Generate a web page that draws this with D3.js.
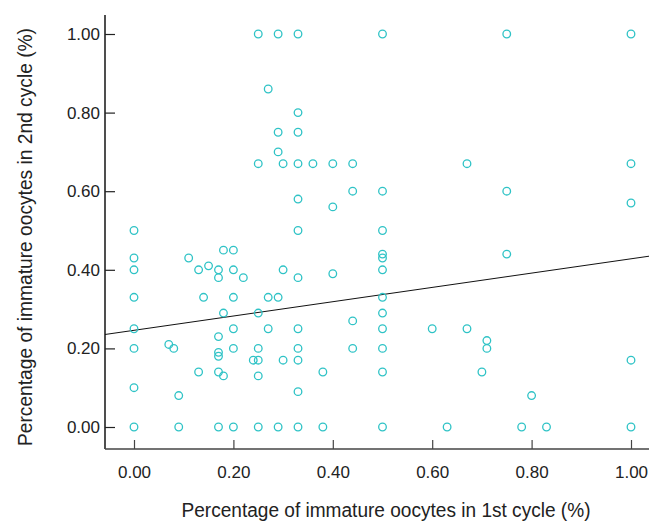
<!DOCTYPE html>
<html>
<head>
<meta charset="utf-8">
<script src="https://cdn.jsdelivr.net/npm/d3@7"></script>
<style>
  body { margin: 0; background: #fff; }
  text { font-family: "Liberation Sans", Arial, sans-serif; fill: #222; }
</style>
</head>
<body>
<div class="chart"></div>
<script>
// first cycle (x) and second cycle (y) immature oocyte ratios
var cycle1 = [0.25,0.29,0.33,0.50,0.75,1.00, 0.27, 0.33, 0.29,0.33, 0.29,
  0.25,0.30,0.33,0.36,0.40,0.44,0.67,1.00, 0.44,0.50,0.75, 0.33, 0.40, 1.00,
  0.00,0.33,0.50, 0.00,0.11,0.18,0.20,
  0.00,0.13,0.15,0.17,0.17,0.20,0.22,0.30,0.33,
  0.50,0.50,0.50,0.40,0.75,
  0.00,0.14,0.20,0.27,0.29,0.50,
  0.18,0.25,0.50, 0.44,
  0.00,0.20,0.27,0.33,0.50,0.60,0.67,
  0.17, 0.71,
  0.00,0.07,0.08,0.20,0.25,0.33,0.44,0.50,0.71,
  0.17,0.17,
  0.24,0.25,0.30,0.33,1.00,
  0.13,0.17,0.38,0.50,0.70,
  0.18,0.25, 0.00, 0.09,0.80, 0.33,
  0.00,0.09,0.17,0.20,0.25,0.29,0.33,0.38,0.50,0.63,0.78,0.83,1.00];
var cycle2 = [1.00,1.00,1.00,1.00,1.00,1.00, 0.86, 0.80, 0.75,0.75, 0.70,
  0.67,0.67,0.67,0.67,0.67,0.67,0.67,0.67, 0.60,0.60,0.60, 0.58, 0.56, 0.57,
  0.50,0.50,0.50, 0.43,0.43,0.45,0.45,
  0.40,0.40,0.41,0.40,0.38,0.40,0.38,0.40,0.38,
  0.44,0.43,0.40,0.39,0.44,
  0.33,0.33,0.33,0.33,0.33,0.33,
  0.29,0.29,0.29, 0.27,
  0.25,0.25,0.25,0.25,0.25,0.25,0.25,
  0.23, 0.22,
  0.20,0.21,0.20,0.20,0.20,0.20,0.20,0.20,0.20,
  0.19,0.18,
  0.17,0.17,0.17,0.17,0.17,
  0.14,0.14,0.14,0.14,0.14,
  0.13,0.13, 0.10, 0.08,0.08, 0.09,
  0.00,0.00,0.00,0.00,0.00,0.00,0.00,0.00,0.00,0.00,0.00,0.00,0.00];
var xTicks = [0, 0.2, 0.4, 0.6, 0.8, 1.0];
var yTicks = [0, 0.2, 0.4, 0.6, 0.8, 1.0];
// fit line
var fitIntercept = 0.246, fitSlope = 0.182;

var data = cycle1.map(function(d, i) { return { x: d, y: cycle2[i] }; });

var W = 649, H = 523;
var margin = {top: 15, right: 0, bottom: 74, left: 105},
    width = W - margin.left - margin.right,
    height = H - margin.top - margin.bottom;

var svg = d3.select(".chart")
  .append("svg")
    .attr("width", W)
    .attr("height", H);
var g = svg.append("g")
    .attr("transform", "translate(" + margin.left + "," + margin.top + ")");

var x = d3.scaleLinear().domain([0, 1]).range([29, 526]);
var y = d3.scaleLinear().domain([0, 1]).range([412, 19]);

// Y axis
var yAxis = g.append("g")
  .call(d3.axisLeft(y).tickValues(yTicks).tickFormat(d3.format(".2f")).tickSize(-10).tickPadding(5));
yAxis.select(".domain").remove();
yAxis.selectAll("line").attr("stroke", "#222").attr("stroke-width", 1.2);
yAxis.selectAll("text").style("font-size", "17px").attr("fill", "#222");

// X axis
var xAxis = g.append("g")
  .attr("transform", "translate(0," + height + ")")
  .call(d3.axisBottom(x).tickValues(xTicks).tickFormat(d3.format(".2f")).tickSize(-9).tickPadding(17));
xAxis.select(".domain").remove();
xAxis.selectAll("line").attr("stroke", "#444").attr("stroke-width", 1.2);
xAxis.selectAll("text").style("font-size", "17px").attr("fill", "#222");

g.append("line")
  .attr("x1", 0).attr("x2", 0).attr("y1", 0).attr("y2", height)
  .attr("stroke", "#222").attr("stroke-width", 1.6);
g.append("line")
  .attr("x1", 0).attr("x2", width).attr("y1", height).attr("y2", height)
  .attr("stroke", "#444").attr("stroke-width", 1.6);

// fit line
var x0 = x.invert(0), x1 = x.invert(width);
g.append("line")
  .attr("x1", x(x0)).attr("y1", y(fitIntercept + fitSlope * x0))
  .attr("x2", x(x1)).attr("y2", y(fitIntercept + fitSlope * x1))
  .attr("stroke", "#111").attr("stroke-width", 1);

// points
g.selectAll("circle")
  .data(data)
  .enter()
  .append("circle")
    .attr("cx", function(d) { return x(d.x); })
    .attr("cy", function(d) { return y(d.y); })
    .attr("r", 3.8)
    .attr("fill", "none")
    .attr("stroke", "#2fc3c6")
    .attr("stroke-width", 1.3);

// titles (condensed to mimic the narrow face)
svg.append("text")
  .attr("x", 386).attr("y", 517)
  .attr("text-anchor", "middle")
  .attr("textLength", 409).attr("lengthAdjust", "spacingAndGlyphs")
  .style("font-size", "20px")
  .text("Percentage of immature oocytes in 1st cycle (%)");
svg.append("text")
  .attr("transform", "translate(32,237) rotate(-90)")
  .attr("text-anchor", "middle")
  .attr("textLength", 418).attr("lengthAdjust", "spacingAndGlyphs")
  .style("font-size", "20px")
  .text("Percentage of immature oocytes in 2nd cycle (%)");
</script>
</body>
</html>
